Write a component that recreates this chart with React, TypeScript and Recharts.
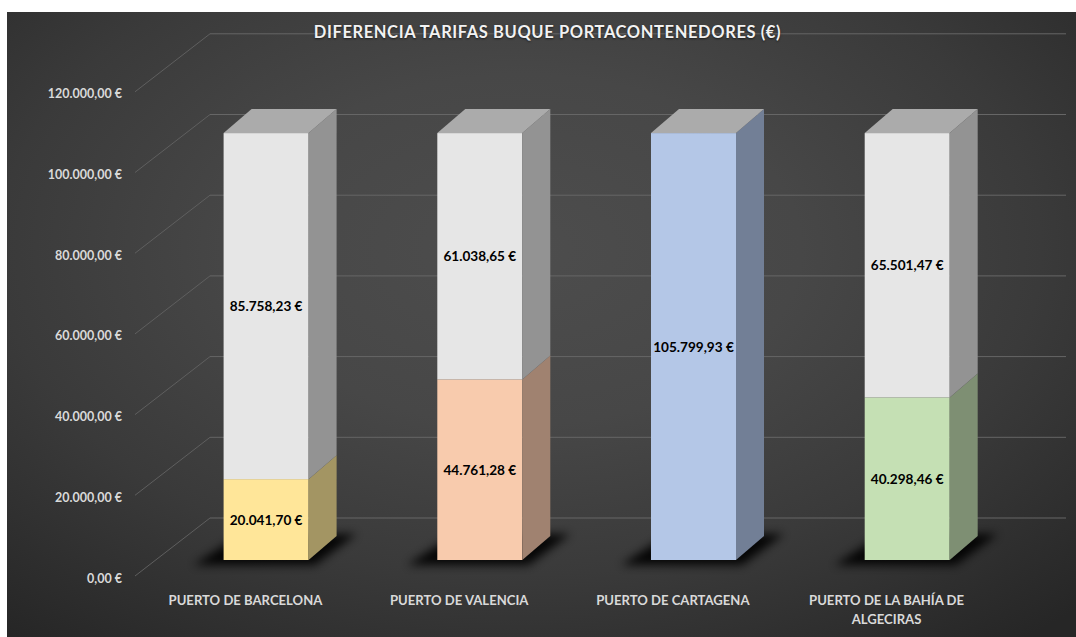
import React from "react";
import { BarChart, Bar, XAxis, YAxis, CartesianGrid, LabelList } from "recharts";

const categories = [
  "PUERTO DE BARCELONA",
  "PUERTO DE VALENCIA",
  "PUERTO DE CARTAGENA",
  "PUERTO DE LA BAHÍA DE ALGECIRAS",
];
const tarifaPuerto = [20041.7, 44761.28, 105799.93, 40298.46];
const diferencia = [85758.23, 61038.65, 0, 65501.47];
const yTicks = [0, 20000, 40000, 60000, 80000, 100000, 120000];
const title = "DIFERENCIA TARIFAS BUQUE PORTACONTENEDORES (€)";

const data = categories.map((name, i) => ({
  name,
  base: tarifaPuerto[i],
  diff: diferencia[i],
}));

const FRONT = ["#ffe699", "#f8cbad", "#b4c7e7", "#c5e0b4"];
const SIDE = ["#a39563", "#a08270", "#727f96", "#7e8f73"];
const GREY_FRONT = "#e6e6e6";
const GREY_SIDE = "#939393";
const GREY_TOP = "#ababab";
const DX = 28;
const DY = -24;
const FONT = "Lato, 'Open Sans', sans-serif";

function fmt(v: number): string {
  const fixed = v.toFixed(2);
  const [intPart, dec] = fixed.split(".");
  const grouped = intPart.replace(/\B(?=(\d{3})+(?!\d))/g, ".");
  return `${grouped},${dec} €`;
}

function Box({
  x,
  y,
  w,
  h,
  front,
  side,
  top,
  shadow,
}: {
  x: number;
  y: number;
  w: number;
  h: number;
  front: string;
  side: string;
  top: string | null;
  shadow: boolean;
}) {
  const y0 = y + h;
  return (
    <g>
      {shadow && (
        <polygon
          points={`${x - 30},${y0 + 5} ${x + w + 6},${y0 + 5} ${x + w + DX + 20},${y0 + DY - 2} ${x + DX - 10},${y0 + DY - 2}`}
          fill="#000"
          opacity={0.9}
          filter="url(#barShadow)"
        />
      )}
      <rect x={x} y={y} width={w} height={h} fill={front} />
      <polygon
        points={`${x + w},${y} ${x + w + DX},${y + DY} ${x + w + DX},${y0 + DY} ${x + w},${y0}`}
        fill={side}
      />
      {top && (
        <polygon
          points={`${x},${y} ${x + w},${y} ${x + w + DX},${y + DY} ${x + DX},${y + DY}`}
          fill={top}
        />
      )}
    </g>
  );
}

const BaseShape = (props: any) => {
  const { x, y, width, height, index, payload } = props;
  return (
    <Box
      x={x}
      y={y}
      w={width}
      h={height}
      front={FRONT[index]}
      side={SIDE[index]}
      top={payload.diff === 0 ? GREY_TOP : null}
      shadow
    />
  );
};

const DiffShape = (props: any) => {
  const { x, y, width, height, payload } = props;
  if (payload.diff === 0) return <g />;
  return (
    <Box
      x={x}
      y={y}
      w={width}
      h={height}
      front={GREY_FRONT}
      side={GREY_SIDE}
      top={GREY_TOP}
      shadow={false}
    />
  );
};

const GridLine = (props: any) => {
  const { y1 } = props;
  const by = y1 - 42;
  return (
    <g key={props.key}>
      <line x1={203} y1={by} x2={1059} y2={by} stroke="#666" strokeWidth={1} />
      <line x1={203} y1={by} x2={128} y2={y1 + 16} stroke="#5f5f5f" strokeWidth={1} />
    </g>
  );
};

const YTick = (props: any) => {
  const { y, payload } = props;
  return (
    <text
      x={115}
      y={y + 18}
      textAnchor="end"
      dominantBaseline="central"
      fill="#d9d9d9"
      fontFamily={FONT}
      fontWeight={700}
      fontSize={12.5}
    >
      {fmt(payload.value)}
    </text>
  );
};

function wrap(s: string, max: number): string[] {
  const words = s.split(" ");
  const lines: string[] = [];
  let cur = "";
  for (const w of words) {
    const next = cur ? cur + " " + w : w;
    if (next.length > max && cur) {
      lines.push(cur);
      cur = w;
    } else cur = next;
  }
  if (cur) lines.push(cur);
  return lines;
}

const XTick = (props: any) => {
  const { x, payload } = props;
  const lines = wrap(payload.value, 21);
  return (
    <text
      textAnchor="middle"
      fill="#d9d9d9"
      fontFamily={FONT}
      fontWeight={700}
      fontSize={13.1}
    >
      {lines.map((l, i) => (
        <tspan key={i} x={x - 21} y={593 + i * 19}>
          {l}
        </tspan>
      ))}
    </text>
  );
};

const ValueLabel = (props: any) => {
  const { x, y, width, height, value } = props;
  if (!value) return null;
  return (
    <text
      x={x + width / 2}
      y={y + height / 2}
      textAnchor="middle"
      dominantBaseline="central"
      fill="#000"
      fontFamily={FONT}
      fontWeight={700}
      fontSize={13.6}
    >
      {fmt(value)}
    </text>
  );
};

export default function App() {
  return (
    <div
      style={{
        position: "absolute",
        left: 7,
        top: 12,
        width: 1069,
        height: 625,
        background:
          "radial-gradient(ellipse 75% 80% at 48% 38%, #4d4d4d 0%, #474747 35%, #3a3a3a 65%, #262626 100%)",
        overflow: "hidden",
      }}
    >
      <svg width={0} height={0} style={{ position: "absolute" }}>
        <defs>
          <filter id="barShadow" x="-50%" y="-100%" width="200%" height="300%">
            <feGaussianBlur stdDeviation="5" />
          </filter>
        </defs>
      </svg>
      <BarChart
        width={1069}
        height={625}
        data={data}
        margin={{ top: 63.8, right: 61.6, bottom: 47, left: 72.6 }}
        barSize={85}
      >
        <CartesianGrid vertical={false} horizontal={GridLine} />
        <XAxis
          dataKey="name"
          height={30}
          axisLine={false}
          tickLine={false}
          interval={0}
          tick={<XTick />}
        />
        <YAxis
          type="number"
          domain={[0, 120000]}
          ticks={yTicks}
          width={80}
          axisLine={false}
          tickLine={false}
          tick={<YTick />}
        />
        <Bar dataKey="base" stackId="a" isAnimationActive={false} shape={BaseShape}>
          <LabelList dataKey="base" content={<ValueLabel />} />
        </Bar>
        <Bar dataKey="diff" stackId="a" isAnimationActive={false} shape={DiffShape}>
          <LabelList dataKey="diff" content={<ValueLabel />} />
        </Bar>
      </BarChart>
      <div
        style={{
          position: "absolute",
          left: 6,
          top: 10,
          width: 1069,
          textAlign: "center",
          fontFamily: FONT,
          fontWeight: 700,
          fontSize: 16.5,
          color: "#f2f2f2",
          letterSpacing: 0.6,
          textShadow: "0 1px 2px rgba(0,0,0,0.6)",
          lineHeight: "20px",
        }}
      >
        {title}
      </div>
    </div>
  );
}
